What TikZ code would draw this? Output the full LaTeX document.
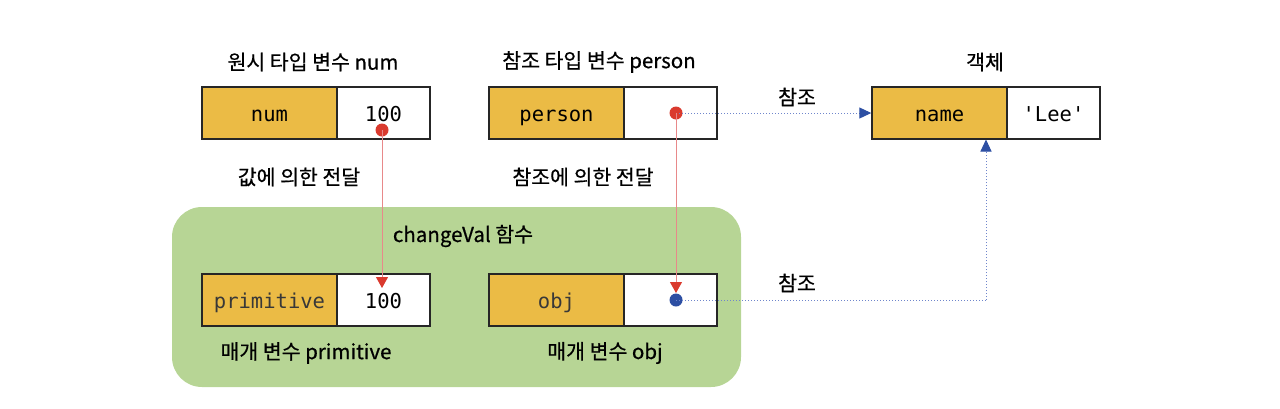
\documentclass[tikz,border=0pt]{standalone}
\usepackage{fontspec}
\setmainfont{Noto Sans CJK KR}[FakeBold=0.6]
\setmonofont{DejaVu Sans Mono}
\usetikzlibrary{arrows.meta}
\definecolor{keyY}{HTML}{EBBB45}
\definecolor{greenbg}{HTML}{B7D595}
\definecolor{redline}{HTML}{E8898A}
\definecolor{reddot}{HTML}{DA3A2E}
\definecolor{bluedot}{HTML}{2D4FA3}
\definecolor{blueline}{HTML}{6F86CC}
\tikzset{
  cell/.style={draw=black!85, line width=1.4pt, minimum height=52pt, inner sep=0pt, text height=16pt, text depth=0pt, font=\fontsize{20.5}{20.5}\selectfont\ttfamily},
  keycell/.style={cell, fill=keyY},
  valcell/.style={cell, fill=white},
  lowcell/.style={text=black!78},
  lbl/.style={font=\fontsize{20.5}{20.5}\selectfont, text=black, inner sep=0pt},
  dot/.style={circle, inner sep=0pt, minimum size=13pt},
  redarrow/.style={draw=redline, line width=1pt, -{Triangle[width=12pt,length=11pt,color=reddot]}},
  bluearrow/.style={draw=blueline, line width=1pt, dotted, -{Triangle[width=11pt,length=12pt,color=bluedot]}},
  blueline/.style={draw=blueline, line width=1pt, dotted}
}
\begin{document}
\begin{tikzpicture}[x=1pt,y=-1pt]
\useasboundingbox (0,0) rectangle (1280,408);
\fill[greenbg, rounded corners=30pt] (172,207) rectangle (741,387);

% top row
\node[keycell, minimum width=135pt] (numk) at (269.5,113) {num};
\node[valcell, minimum width=93pt] (numv) at (383.5,113) {100};
\node[keycell, minimum width=135pt] (perk) at (556.5,113) {person};
\node[valcell, minimum width=93pt] (perv) at (670.5,113) {};
\node[keycell, minimum width=135pt] (namek) at (939.5,113) {name};
\node[valcell, minimum width=93pt] (namev) at (1053.5,113) {'Lee'};

% bottom row
\node[keycell, minimum width=135pt, lowcell] (primk) at (269.5,300) {primitive};
\node[valcell, minimum width=93pt] (primv) at (383.5,300) {100};
\node[keycell, minimum width=135pt, lowcell] (objk) at (556.5,300) {obj};
\node[valcell, minimum width=93pt] (objv) at (670.5,300) {};

% labels
\node[lbl] (t1) at (313,62) {원시 타입 변수 num};
\node[lbl] (t2) at (599,62) {참조 타입 변수 person};
\node[lbl] (t3) at (985,62) {객체};
\node[lbl] (l1) at (299,177) {값에 의한 전달};
\node[lbl] (l2) at (583,177) {참조에 의한 전달};
\node[lbl] (fn) at (463,236) {changeVal 함수};
\node[lbl] (p1) at (306,353) {매개 변수 primitive};
\node[lbl] (p2) at (605,353) {매개 변수 obj};
\node[lbl] (r1) at (797,97) {참조};
\node[lbl] (r2) at (797,283) {참조};

% dots and connectors
\coordinate (numtip) at (382,288);
\coordinate (objtip) at (676,293);
\coordinate (corner) at (986,300);
\coordinate (nameb) at (986,139.5);
\node[dot, fill=bluedot] (bd) at (676,300) {};
\draw[blueline] (bd.center) -- (corner);
\draw[bluearrow] (corner) -- (nameb);
\node[dot, fill=reddot] (rd1) at (382,130) {};
\node[dot, fill=reddot] (rd2) at (676,113) {};
\draw[bluearrow] (rd2.center) -- (namek.west);
\draw[redarrow] (rd1.center) -- (numtip);
\draw[redarrow] (rd2.center) -- (objtip);
\end{tikzpicture}
\end{document}
